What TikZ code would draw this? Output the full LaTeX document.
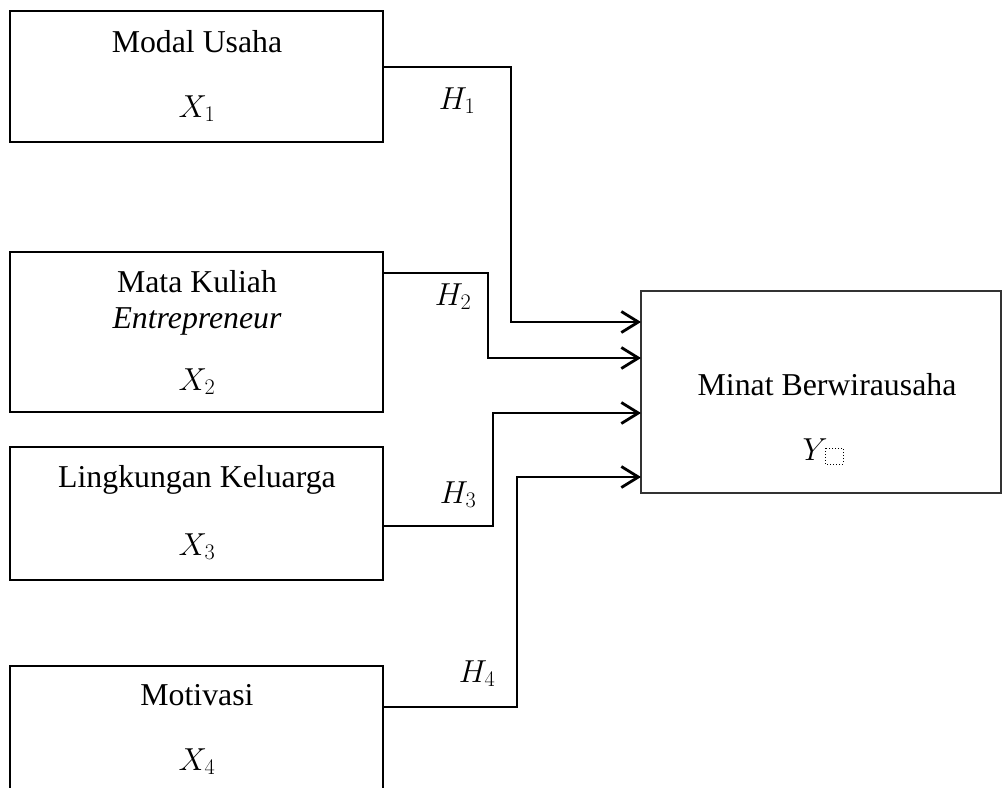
\documentclass[tikz,border=0pt]{standalone}
\usepackage{fix-cm}
\usepackage{fontspec}
\setmainfont{Liberation Serif}
\usetikzlibrary{arrows.meta}
\begin{document}
\begin{tikzpicture}[x=1pt,y=-1pt,
  box/.style={draw=black, line width=1.3pt, minimum width=373pt, inner sep=0pt, outer sep=0pt},
  ybox/.style={draw=black!80, line width=1.5pt, minimum width=360pt, minimum height=202pt, inner sep=0pt, outer sep=0pt},
  txt/.style={anchor=base, inner sep=0pt, font=\fontsize{31.8}{38}\selectfont},
  conn/.style={line width=2.8pt, -{Straight Barb[length=17pt,width=21pt,line width=2.8pt]}},
  dotbox/.style={draw=black, line width=1pt, dotted}]
\useasboundingbox (0,0) rectangle (1006,787);
\clip (0,0) rectangle (1006,787);
% boxes
\node[box, minimum height=131pt] (b1) at (196.5,76.5) {};
\node[box, minimum height=160pt] (b2) at (196.5,332) {};
\node[box, minimum height=133pt] (b3) at (196.5,513.5) {};
\node[box, minimum height=234pt] (b4) at (196.5,783) {};
\node[ybox] (y) at (821,392) {};
% texts
\node[txt] (t1) at (197,52) {Modal Usaha};
\node[txt] (x1) at (197,117) {$X_1$};
\node[txt] (t2a) at (197,292) {Mata Kuliah};
\node[txt] (t2b) at (197,328) {\itshape Entrepreneur};
\node[txt] (x2) at (197,390) {$X_2$};
\node[txt] (t3) at (197,487) {Lingkungan Keluarga};
\node[txt] (x3) at (197,555) {$X_3$};
\node[txt] (t4) at (197,705) {Motivasi};
\node[txt] (x4) at (197,770) {$X_4$};
\node[txt] (ty) at (827,395) {Minat Berwirausaha};
\node[txt] (yy) at (815,460) {$Y$};
\draw[dotbox] (825,448) rectangle (843,464);
% hypothesis labels
\node[txt] (h1) at (457,109) {$H_1$};
\node[txt] (h2) at (453,305) {$H_2$};
\node[txt] (h3) at (458,503) {$H_3$};
\node[txt] (h4) at (477,682) {$H_4$};
% connectors
\draw[conn] ([yshift=9.5pt]b1.east) -| ([xshift=-130pt,yshift=70pt]y.west) -- ([yshift=70pt]y.west);
\draw[conn] ([yshift=59pt]b2.east) -| ([xshift=-153pt,yshift=34pt]y.west) -- ([yshift=34pt]y.west);
\draw[conn] ([yshift=-12.5pt]b3.east) -| ([xshift=-148pt,yshift=-21pt]y.west) -- ([yshift=-21pt]y.west);
\draw[conn] ([yshift=76pt]b4.east) -| ([xshift=-124pt,yshift=-85pt]y.west) -- ([yshift=-85pt]y.west);
\end{tikzpicture}
\end{document}
